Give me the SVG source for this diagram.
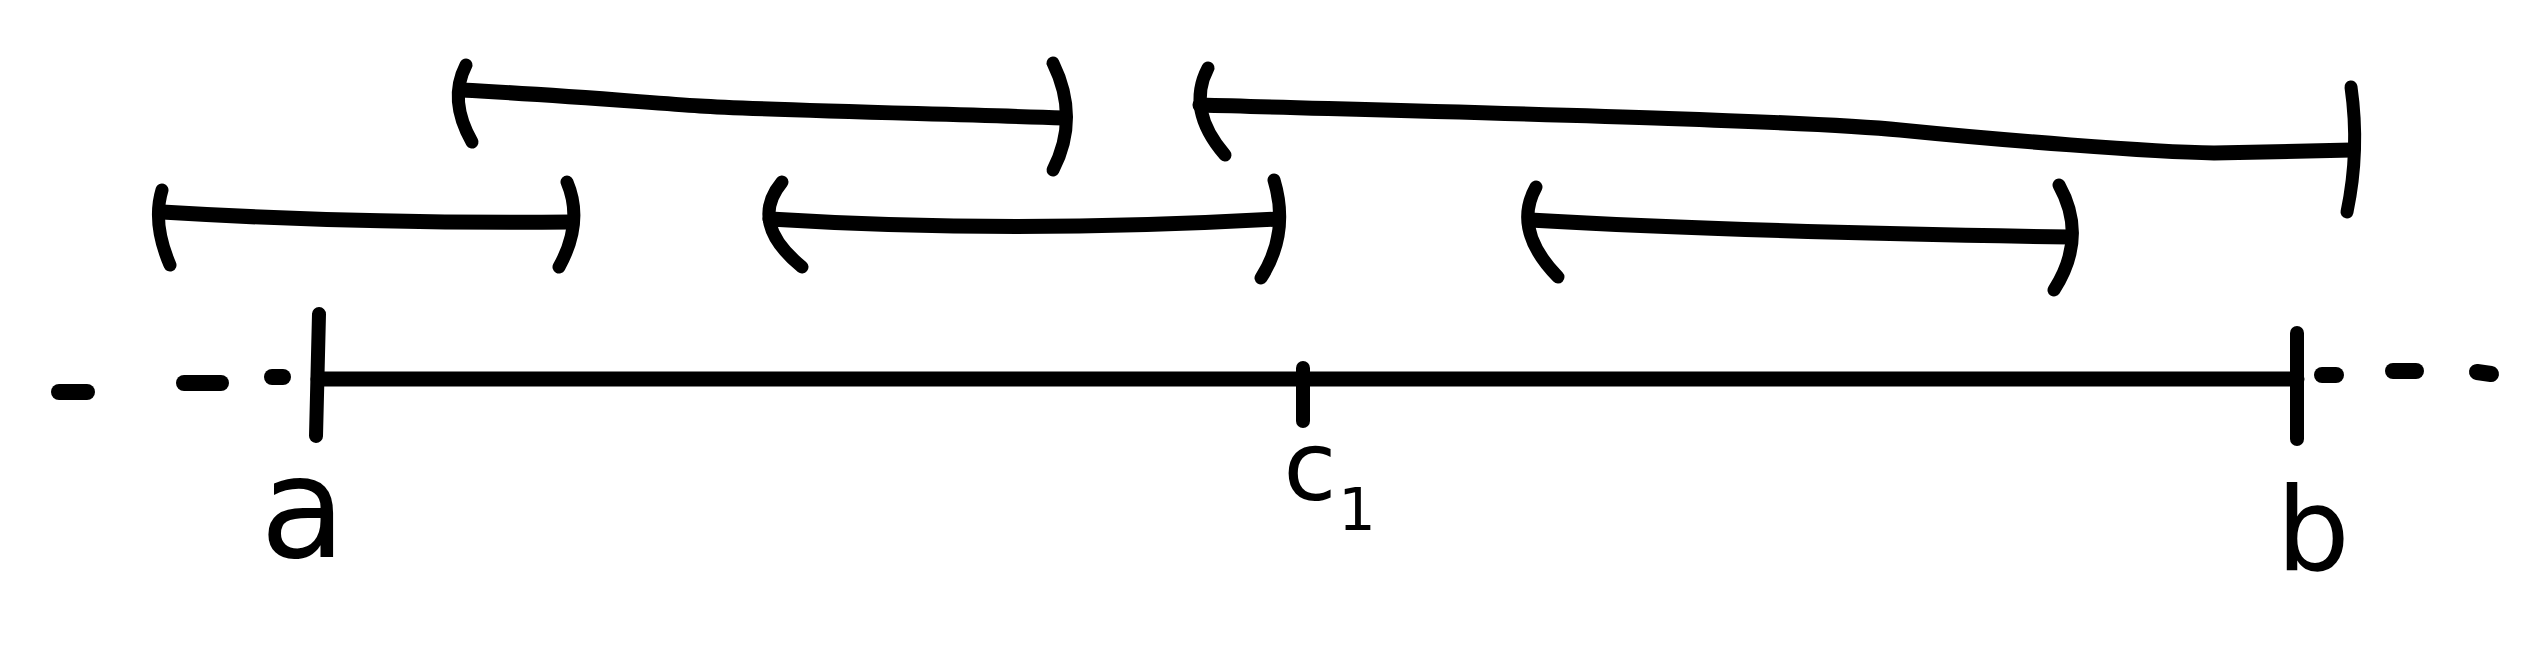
<svg xmlns="http://www.w3.org/2000/svg" width="2540" height="654" viewBox="0 0 2540 654">
<style>
.ink{fill:none;stroke:#000;stroke-linecap:round;stroke-linejoin:round}
.ln{stroke-width:15}
.br{stroke-width:13}
.tk{stroke-width:14}
.dot{stroke-width:16}
.lbl{font-family:"DejaVu Sans",sans-serif;fill:#000;text-anchor:middle}
</style>
<rect width="2540" height="654" fill="#fff"/>
<g id="interval-top-left" class="ink">
<path class="ln" d="M461,90 C560,95 640,102 700,106 S950,114 1064,118"/>
<path class="br" d="M466,65 Q448,100 472,142"/>
<path class="br" d="M1053,63 Q1080,118 1053,170"/>
</g>
<g id="interval-top-right" class="ink">
<path class="ln" d="M1200,105 C1450,112 1800,120 1900,130 S2150,152 2214,153 L2352,150"/>
<path class="br" d="M1208,68 Q1186,110 1225,155"/>
<path class="br" d="M2351,87 Q2360,150 2347,212"/>
</g>
<g id="interval-mid-left" class="ink">
<path class="ln" d="M162,212 Q360,224 572,222"/>
<path class="br" d="M162,190 Q152,223 170,265"/>
<path class="br" d="M567,182 Q584,222 559,267"/>
</g>
<g id="interval-mid-center" class="ink">
<path class="ln" d="M770,219 Q1010,234 1277,219"/>
<path class="br" d="M782,182 Q748,223 802,267"/>
<path class="br" d="M1274,180 Q1290,233 1261,278"/>
</g>
<g id="interval-mid-right" class="ink">
<path class="ln" d="M1530,220 Q1740,232 2070,237"/>
<path class="br" d="M1536,187 Q1512,230 1558,277"/>
<path class="br" d="M2059,185 Q2088,237 2054,290"/>
</g>
<g id="number-line" class="ink">
<path stroke-width="15" d="M318,379 L2297,379"/>
<path class="dot" d="M59,392 L87,392"/>
<path class="dot" d="M184,383 L221,383"/>
<path class="dot" d="M272,377 L283,377"/>
<path class="dot" d="M2322,375 L2336,375"/>
<path class="dot" d="M2393,371 L2416,371"/>
<path class="dot" d="M2477,372 L2491,374"/>
<path class="tk" d="M319,314 L316,436"/>
<path class="tk" stroke-width="10" d="M1303,368 L1303,421"/>
<path class="tk" d="M2297,333 L2297,439"/>
</g>
<g id="labels">
<text class="lbl" x="303" y="557" font-size="140">a</text>
<text class="lbl" x="1310" y="500" font-size="97">c</text>
<text class="lbl" x="1357" y="530" font-size="59">1</text>
<text class="lbl" x="2313" y="570" font-size="116">b</text>
</g>
</svg>
